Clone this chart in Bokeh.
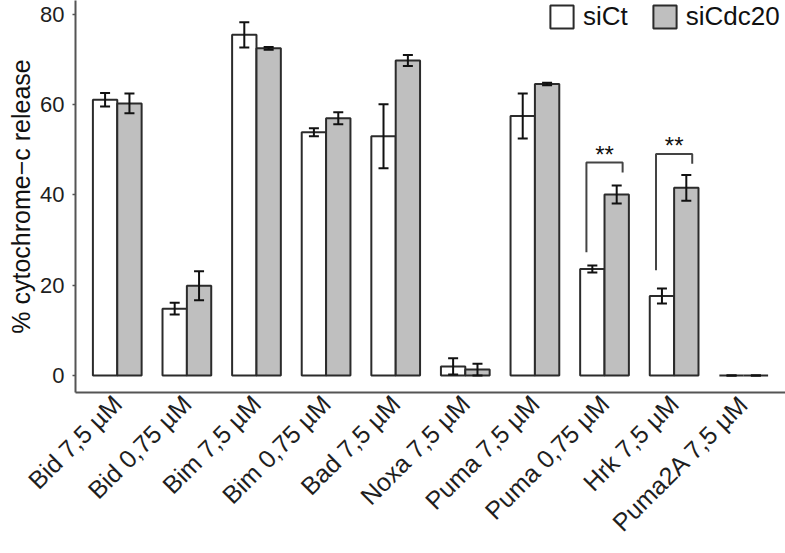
import math
from bokeh.plotting import figure
from bokeh.models import (ColumnDataSource, FixedTicker, Whisker, TeeHead,
                          Legend, LegendItem, Range1d)
from bokeh.core.properties import value
from bokeh.embed import file_html
from bokeh.resources import INLINE

# ---------------- data ----------------
categories = ["Bid 7,5 µM", "Bid 0,75 µM", "Bim 7,5 µM", "Bim 0,75 µM",
              "Bad 7,5 µM", "Noxa 7,5 µM", "Puma 7,5 µM", "Puma 0,75 µM",
              "Hrk 7,5 µM", "Puma2A 7,5 µM"]
series = ["siCt", "siCdc20"]
sict_mean = [61.1, 14.8, 75.5, 53.9, 53.0, 2.0, 57.5, 23.6, 17.6, 0.0]
sict_err = [1.5, 1.3, 2.8, 0.9, 7.1, 1.8, 5.0, 0.75, 1.65, 0.0]
sicdc20_mean = [60.3, 19.9, 72.5, 57.0, 69.8, 1.3, 64.6, 40.1, 41.6, 0.0]
sicdc20_err = [2.2, 3.2, 0.3, 1.35, 1.2, 1.3, 0.3, 2.0, 2.85, 0.0]
y_ticks = [0, 20, 40, 60, 80]

# significance brackets (category index is 1-based)
sig_category = [8, 9]
sig_left_y = [27.3, 23.3]
sig_top_y = [47.2, 49.1]
sig_right_y = [45.0, 46.9]
sig_label = ["**", "**"]

# ---------------- styling / layout ----------------
FONT = "Liberation Sans"
BAR_W = 0.35
FILLS = ["white", "#bfbfbf"]
EDGE = "#2b2b2b"
AXIS_C = "#555555"
TXT_C = "#1e1e1e"

W, H = 785, 553
Y0, Y1 = -3.77, 83.1
BOTTOM = 161
PX_PER_UNIT = (H - BOTTOM) / (Y1 - Y0)
STAR_GAP_PX = 8

n = len(categories)
pos = list(range(1, n + 1))

p = figure(width=W, height=H, output_backend="svg", toolbar_location=None,
           x_range=Range1d(0.4, 10.6), y_range=Range1d(Y0, Y1),
           min_border_top=0, min_border_right=0, min_border_left=75,
           min_border_bottom=BOTTOM)
p.outline_line_color = None
p.xgrid.visible = False
p.ygrid.visible = False
p.background_fill_color = "white"

renderers = []
for k, (means, errs) in enumerate([(sict_mean, sict_err), (sicdc20_mean, sicdc20_err)]):
    off = (-0.5 + k) * BAR_W
    xs = [x + off for x in pos]
    src = ColumnDataSource(dict(
        x=xs, top=means,
        upper=[m + e for m, e in zip(means, errs)],
        lower=[m - e for m, e in zip(means, errs)]))
    r = p.vbar(x="x", top="top", bottom=0, width=BAR_W, source=src,
               fill_color=FILLS[k], line_color=EDGE, line_width=2)
    renderers.append(r)
    w = Whisker(source=src, base="x", upper="upper", lower="lower",
                dimension="height", line_color="#111111", line_width=2,
                level="annotation",
                upper_head=TeeHead(size=10, line_color="#111111", line_width=2),
                lower_head=TeeHead(size=10, line_color="#111111", line_width=2))
    p.add_layout(w)

# significance brackets
bx = []
by = []
for c, yl, yt, yr in zip(sig_category, sig_left_y, sig_top_y, sig_right_y):
    xl = c - 0.26
    xr = c + 0.26
    bx.append([xl, xl, xr, xr])
    by.append([yl, yt, yt, yr])
p.multi_line(xs=bx, ys=by, line_color="#444444", line_width=2)
p.text(x=sig_category, y=[t + STAR_GAP_PX / PX_PER_UNIT for t in sig_top_y],
       text=sig_label, text_font=value(FONT), text_font_size="24px",
       text_align="center", text_baseline="middle", text_color="#111111")

# x axis
p.xaxis.ticker = FixedTicker(ticks=pos)
p.xaxis.major_label_overrides = {i: c for i, c in zip(pos, categories)}
p.xaxis.major_label_orientation = math.pi / 4
p.xaxis.major_tick_out = 0
p.xaxis.major_tick_in = 0
p.xaxis.minor_tick_line_color = None
p.xaxis.major_label_text_font = FONT
p.xaxis.major_label_text_font_size = "25px"
p.xaxis.major_label_text_color = TXT_C
p.xaxis.major_label_standoff = 7
p.xaxis.axis_line_color = AXIS_C
p.xaxis.axis_line_width = 2

# y axis
p.yaxis.ticker = FixedTicker(ticks=y_ticks)
p.yaxis.major_tick_out = 3
p.yaxis.major_tick_in = 0
p.yaxis.major_tick_line_color = AXIS_C
p.yaxis.major_tick_line_width = 1.5
p.yaxis.minor_tick_line_color = None
p.yaxis.major_label_text_font = FONT
p.yaxis.major_label_text_font_size = "22px"
p.yaxis.major_label_text_color = TXT_C
p.yaxis.major_label_standoff = 8
p.yaxis.axis_line_color = AXIS_C
p.yaxis.axis_line_width = 2
p.yaxis.axis_label = "% cytochrome\u2212c release"
p.yaxis.axis_label_text_font = FONT
p.yaxis.axis_label_text_font_size = "25px"
p.yaxis.axis_label_text_font_style = "normal"
p.yaxis.axis_label_text_color = "#111111"
p.yaxis.axis_label_standoff = 2

legend = Legend(items=[LegendItem(label=series[0], renderers=[renderers[0]]),
                       LegendItem(label=series[1], renderers=[renderers[1]])],
                orientation="horizontal", location=(472, 360),
                label_text_font=FONT, label_text_font_size="26px",
                label_text_color="#111111",
                glyph_width=29, glyph_height=29, label_standoff=7,
                spacing=22, padding=0, margin=0,
                border_line_color=None, background_fill_alpha=0)
p.add_layout(legend)

open("out.html", "w").write(file_html(p, INLINE))
